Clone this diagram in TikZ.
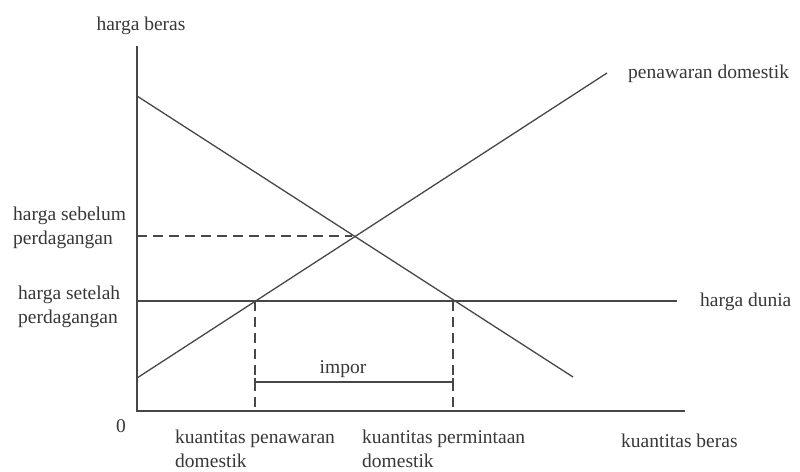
\documentclass[tikz,border=0pt]{standalone}
\usepackage{fontspec}
\setmainfont{Liberation Serif}
\begin{document}
\begin{tikzpicture}[x=1pt,y=-1pt,
  curve/.style={draw=black!72,line width=1.3pt},
  guide/.style={draw=black!72,line width=1.3pt,dash pattern=on 10pt off 6pt},
  lbl/.style={inner sep=0pt,text=black!78,font=\fontsize{19.5}{24}\selectfont,align=left}]
\useasboundingbox[fill=white] (0,0) rectangle (800,471);
% coordinates
\coordinate (O) at (137,411);
\coordinate (ytop) at (137,46);
\coordinate (xend) at (685,411);
\coordinate (d1) at (137,96);
\coordinate (d2) at (573,377);
\coordinate (s1) at (137,378);
\coordinate (s2) at (607,73);
\coordinate (eq) at (352,236);
\coordinate (eqy) at (137,236);
\coordinate (w1) at (137,301);
\coordinate (w2) at (677,301);
\coordinate (qs) at (255,301);
\coordinate (qd) at (453,301);
\coordinate (qsb) at (255,411);
\coordinate (qdb) at (453,411);
\coordinate (i1) at (255,382);
\coordinate (i2) at (453,382);
% axes
\draw[curve] (ytop) -- (O) -- (xend);
% curves
\draw[curve] (d1) -- (d2);
\draw[curve] (s1) -- (s2);
\draw[curve] (w1) -- (w2);
% dashed guides
\draw[guide] (eqy) -- (eq);
\draw[guide] (qs) -- (qsb);
\draw[guide] (qd) -- (qdb);
% impor bar
\draw[curve] (i1) -- (i2);
\draw[curve] (i1) ++(0,-4.5) -- ++(0,9);
\draw[curve] (i2) ++(0,-4.5) -- ++(0,9);
% labels
\node[lbl] (lpy) at (141,26) {harga beras};
\node[lbl,anchor=west] (lpre) at (13,228) {harga sebelum\\perdagangan};
\node[lbl,anchor=west] (lpost) at (18,307) {harga setelah\\perdagangan};
\node[lbl] (lzero) at (121,426) {0};
\node[lbl,anchor=west] (lqs) at (175,449) {kuantitas penawaran\\domestik};
\node[lbl,anchor=west] (lqd) at (362,449) {kuantitas permintaan\\domestik};
\node[lbl,anchor=west] (lqx) at (621,441) {kuantitas beras};
\node[lbl,anchor=west] (lw) at (700,302) {harga dunia};
\node[lbl,anchor=west] (ls) at (628,74) {penawaran domestik};
\node[lbl] (limp) at (343,369) {impor};
\end{tikzpicture}
\end{document}
